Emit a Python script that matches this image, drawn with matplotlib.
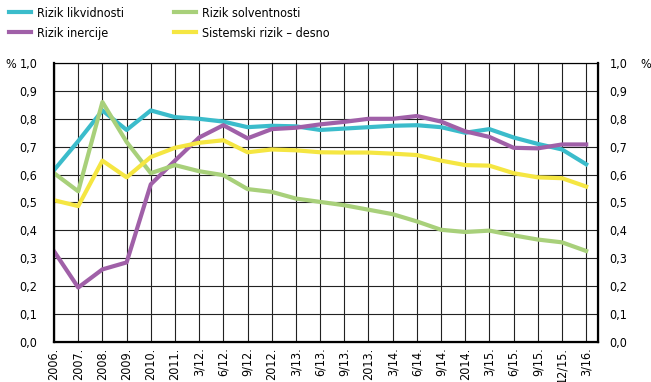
import matplotlib
matplotlib.use('Agg')
import matplotlib.pyplot as plt

# condensed look like the reference
plt.rcParams['font.family'] = ['DejaVu Sans']
plt.rcParams['font.stretch'] = 'condensed'

labels = ['2006.', '2007.', '2008.', '2009.', '2010.', '2011.', '3/12.', '6/12.', '9/12.',
          '2012.', '3/13.', '6/13.', '9/13.', '2013.', '3/14.', '6/14.', '9/14.', '2014.',
          '3/15.', '6/15.', '9/15.', '12/15.', '3/16.']

likvidnost = [0.616, 0.72, 0.83, 0.76, 0.83, 0.806, 0.80, 0.79, 0.77, 0.775, 0.773, 0.76,
              0.765, 0.77, 0.775, 0.777, 0.77, 0.75, 0.763, 0.733, 0.71, 0.69, 0.637]
inercija = [0.325, 0.195, 0.26, 0.285, 0.565, 0.65, 0.733, 0.777, 0.73, 0.763, 0.768, 0.78,
            0.789, 0.80, 0.80, 0.81, 0.79, 0.755, 0.735, 0.696, 0.694, 0.708, 0.708]
solventnost = [0.605, 0.54, 0.86, 0.717, 0.605, 0.634, 0.612, 0.598, 0.548, 0.538, 0.514, 0.502,
               0.49, 0.474, 0.458, 0.432, 0.402, 0.394, 0.399, 0.382, 0.367, 0.357, 0.326]
sistemski = [0.508, 0.487, 0.65, 0.59, 0.663, 0.696, 0.714, 0.723, 0.68, 0.69, 0.687, 0.68,
             0.679, 0.679, 0.675, 0.67, 0.65, 0.634, 0.632, 0.605, 0.59, 0.587, 0.557]

x = list(range(len(labels)))

fig = plt.figure(figsize=(6.51, 3.82), dpi=100)
ax = fig.add_axes([0.083, 0.105, 0.836, 0.73])

ax.plot(x, likvidnost, color='#3BBCCB', lw=3, label='Rizik likvidnosti', zorder=3)
ax.plot(x, inercija, color='#A060A8', lw=3, label='Rizik inercije', zorder=3)
ax.plot(x, solventnost, color='#A8D07A', lw=3, label='Rizik solventnosti', zorder=3)
ax.plot(x, sistemski, color='#F5E642', lw=3, label='Sistemski rizik – desno', zorder=3)

ax.set_xlim(0, len(labels) - 0.5)
ax.set_ylim(0, 1.0)
ax.set_xticks(x)
ax.set_xticklabels(labels, rotation=90, fontsize=9)
yt = [i / 10 for i in range(11)]
ytl = [('%.1f' % v).replace('.', ',') for v in yt]
ax.set_yticks(yt)
ax.set_yticklabels(ytl, fontsize=9)
ax.grid(True, color='#222222', lw=0.8)
ax.tick_params(axis='y', length=0, pad=12)
ax.tick_params(axis='x', length=0, pad=4)
for s in ax.spines.values():
    s.set_linewidth(0.8)
ax.spines['bottom'].set_linewidth(1.6)
ax.spines['left'].set_linewidth(1.6)

ax2 = ax.twinx()
ax2.set_ylim(0, 1.0)
ax2.set_yticks(yt)
ax2.set_yticklabels(ytl, fontsize=9)
ax2.tick_params(length=0, pad=8)
for s in ax2.spines.values():
    s.set_linewidth(0.8)
ax2.spines['right'].set_linewidth(1.6)

fig.text(5 / 651, 1 - 64 / 382, '%', fontsize=9, va='center')
fig.text(640 / 651, 1 - 64 / 382, '%', fontsize=9, va='center')

h, l = ax.get_legend_handles_labels()
fig.legend(h, l, ncol=2, loc='upper left',
           bbox_to_anchor=(0.0, 1.005), frameon=False, fontsize=9, handlelength=1.8,
           handletextpad=0.45, columnspacing=4.0, labelspacing=0.55, borderaxespad=0.3)

fig.savefig('out.png', dpi=100)
